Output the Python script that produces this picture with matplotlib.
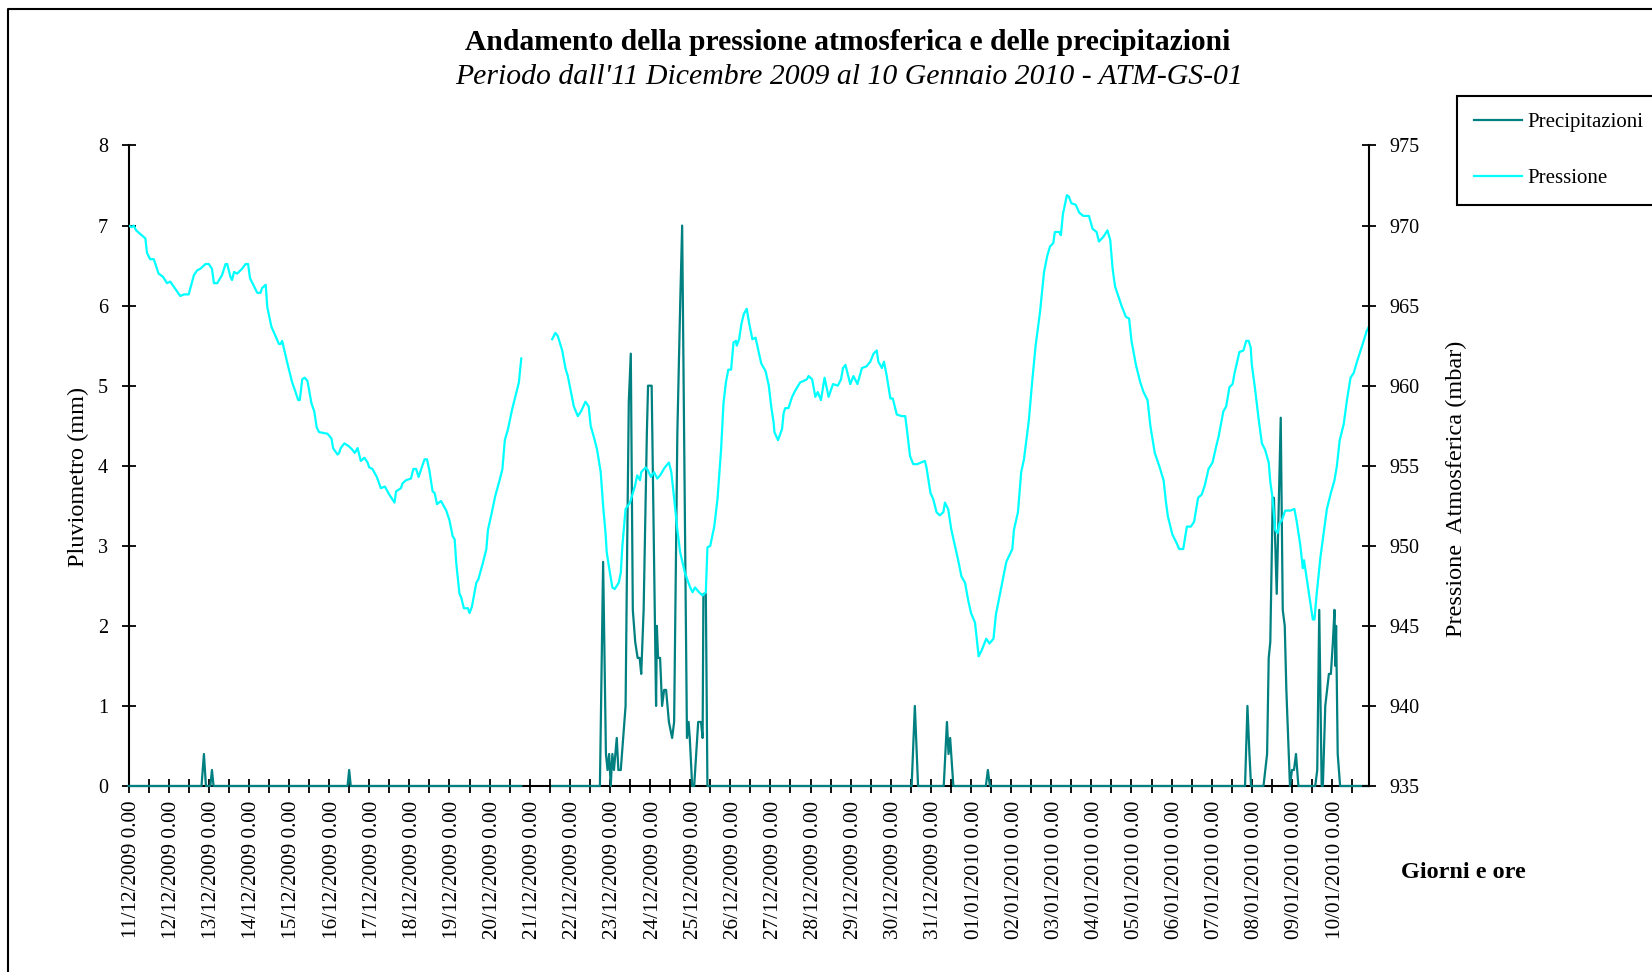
import matplotlib
matplotlib.use("Agg")
import matplotlib.pyplot as plt
import matplotlib.ticker as ticker
from matplotlib.lines import Line2D
from matplotlib.transforms import ScaledTranslation
import numpy as np
import pandas as pd

plt.rcParams['font.family'] = ['Liberation Serif', 'DejaVu Serif']

# giorni dal 11/12/2009 0.00 (x) e valori
press_day_1 = [0.00, 0.08, 0.13, 0.19, 0.42, 0.46, 0.54, 0.63, 0.75, 0.86, 0.96, 1.04, 1.29, 1.38, 1.50,
               1.63, 1.71, 1.79, 1.92, 2.00, 2.08, 2.13, 2.21, 2.33, 2.42, 2.46, 2.54, 2.58, 2.63, 2.71,
               2.83, 2.92, 2.98, 3.03, 3.21, 3.29, 3.33, 3.42, 3.46, 3.56, 3.63, 3.75, 3.79, 3.83, 3.96,
               4.08, 4.15, 4.23, 4.27, 4.33, 4.39, 4.46, 4.56, 4.63, 4.69, 4.75, 4.96, 5.06, 5.10, 5.21,
               5.25, 5.29, 5.38, 5.50, 5.58, 5.64, 5.71, 5.79, 5.88, 5.96, 6.00, 6.08, 6.19, 6.29, 6.39,
               6.50, 6.63, 6.67, 6.79, 6.83, 6.92, 7.04, 7.10, 7.17, 7.23, 7.31, 7.38, 7.44, 7.50, 7.58,
               7.63, 7.69, 7.79, 7.92, 8.00, 8.08, 8.13, 8.17, 8.25, 8.29, 8.36, 8.46, 8.50, 8.56, 8.67,
               8.72, 8.83, 8.92, 8.96, 9.04, 9.14, 9.25, 9.32, 9.38, 9.46, 9.56, 9.64, 9.73, 9.79]
press_mbar_1 = [970.0, 969.9, 970.0, 969.7, 969.2, 968.3, 967.9, 967.9, 967.0, 966.8, 966.4, 966.5, 965.6, 965.7, 965.7,
                966.9, 967.2, 967.3, 967.6, 967.6, 967.3, 966.4, 966.4, 966.9, 967.6, 967.6, 966.8, 966.6, 967.1, 967.0,
                967.3, 967.6, 967.6, 966.7, 965.8, 965.8, 966.1, 966.3, 964.9, 963.7, 963.3, 962.6, 962.6, 962.8, 961.4,
                960.2, 959.7, 959.1, 959.1, 960.4, 960.5, 960.3, 958.9, 958.4, 957.4, 957.1, 957.0, 956.7, 956.1, 955.7,
                955.8, 956.1, 956.4, 956.2, 956.0, 955.8, 956.1, 955.3, 955.5, 955.2, 954.9, 954.8, 954.3, 953.6, 953.7,
                953.2, 952.7, 953.4, 953.6, 953.9, 954.1, 954.2, 954.8, 954.8, 954.3, 954.9, 955.4, 955.4, 954.7, 953.4,
                953.3, 952.6, 952.8, 952.2, 951.6, 950.6, 950.4, 948.9, 947.0, 946.8, 946.1, 946.1, 945.8, 946.2, 947.7,
                947.9, 948.9, 949.8, 951.0, 951.9, 953.1, 954.1, 954.8, 956.6, 957.3, 958.5, 959.3, 960.2, 961.7]

press_day_2 = [10.56, 10.64, 10.70, 10.81, 10.89, 10.95, 11.03, 11.10, 11.20, 11.28, 11.39, 11.47, 11.52, 11.62, 11.68,
               11.77, 11.83, 11.89, 11.92, 12.00, 12.06, 12.12, 12.22, 12.27, 12.31, 12.39, 12.50, 12.62, 12.68, 12.75,
               12.78, 12.89, 12.95, 13.02, 13.10, 13.18, 13.25, 13.37, 13.47, 13.53, 13.62, 13.68, 13.75, 13.87, 14.00,
               14.06, 14.12, 14.22, 14.31, 14.39, 14.43, 14.50, 14.60, 14.68, 14.77, 14.83, 14.89, 14.95, 15.02, 15.08,
               15.14, 15.16, 15.22, 15.28, 15.34, 15.41, 15.47, 15.55, 15.63, 15.69, 15.77, 15.88, 15.96, 16.02, 16.08,
               16.10, 16.19, 16.29, 16.33, 16.37, 16.45, 16.54, 16.62, 16.74, 16.83, 16.91, 16.95, 17.04, 17.12, 17.18,
               17.26, 17.35, 17.45, 17.56, 17.68, 17.76, 17.81, 17.87, 17.99, 18.07, 18.17, 18.28, 18.39, 18.49, 18.57,
               18.65, 18.69, 18.78, 18.83, 18.90, 18.99, 19.05, 19.15, 19.27, 19.36, 19.41, 19.48, 19.56, 19.66, 19.75,
               19.85, 19.89, 19.99, 20.06, 20.14, 20.22, 20.31, 20.35, 20.43, 20.51, 20.60, 20.68, 20.76, 20.85, 20.93,
               21.00, 21.10, 21.19, 21.27, 21.38, 21.46, 21.56, 21.62, 21.73, 21.88, 22.03, 22.07, 22.17, 22.25, 22.32,
               22.44, 22.53, 22.61, 22.72, 22.82, 22.90, 22.97, 23.05, 23.09, 23.20, 23.24, 23.29, 23.39, 23.44, 23.50,
               23.61, 23.70, 23.80, 23.94, 24.03, 24.13, 24.19, 24.30, 24.40, 24.47, 24.53, 24.59, 24.67, 24.75, 24.86,
               24.94, 25.00, 25.11, 25.22, 25.30, 25.40, 25.47, 25.58, 25.69, 25.80, 25.86, 25.91, 26.02, 26.10, 26.19,
               26.29, 26.38, 26.48, 26.56, 26.66, 26.75, 26.83, 26.92, 27.02, 27.11, 27.17, 27.29, 27.36, 27.44, 27.52,
               27.57, 27.69, 27.79, 27.86, 27.92, 27.97, 28.00, 28.08, 28.17, 28.25, 28.33, 28.42, 28.46, 28.52, 28.58,
               28.64, 28.69, 28.75, 28.83, 28.96, 29.06, 29.12, 29.21, 29.27, 29.30, 29.37, 29.46, 29.52, 29.56, 29.62,
               29.71, 29.79, 29.87, 29.97, 30.06, 30.12, 30.19, 30.29, 30.37, 30.46, 30.54, 30.62, 30.75, 30.86, 30.92]
press_mbar_2 = [962.9, 963.3, 963.1, 962.2, 961.1, 960.6, 959.6, 958.7, 958.1, 958.4, 959.0, 958.7, 957.5, 956.6, 956.0,
                954.6, 952.5, 950.8, 949.6, 948.3, 947.4, 947.3, 947.7, 948.3, 950.0, 952.3, 952.7, 953.7, 954.4, 954.1,
                954.6, 954.9, 954.7, 954.3, 954.6, 954.2, 954.4, 954.9, 955.2, 954.6, 952.5, 951.0, 949.6, 948.3, 947.4,
                947.1, 947.4, 947.1, 946.9, 947.1, 949.9, 950.0, 951.2, 952.9, 956.0, 958.9, 960.2, 961.0, 961.0, 962.7,
                962.8, 962.5, 962.9, 963.9, 964.5, 964.8, 963.9, 962.9, 963.0, 962.3, 961.4, 960.9, 960.0, 958.7, 957.7,
                957.1, 956.6, 957.3, 958.3, 958.6, 958.6, 959.3, 959.7, 960.2, 960.3, 960.4, 960.6, 960.4, 959.3, 959.6,
                959.1, 960.5, 959.3, 960.1, 960.0, 960.4, 961.1, 961.3, 960.1, 960.6, 960.1, 961.1, 961.2, 961.5, 962.0,
                962.2, 961.5, 961.1, 961.5, 960.6, 959.2, 959.2, 958.2, 958.1, 958.1, 957.1, 955.6, 955.1, 955.1, 955.2,
                955.3, 954.9, 953.3, 952.9, 952.1, 951.9, 952.1, 952.7, 952.3, 951.0, 950.0, 949.1, 948.1, 947.7, 946.6,
                945.8, 945.2, 943.1, 943.5, 944.2, 943.9, 944.2, 945.7, 947.1, 949.0, 949.8, 951.0, 952.1, 954.6, 955.4,
                957.8, 960.4, 962.5, 964.6, 967.1, 968.1, 968.7, 968.9, 969.6, 969.6, 969.4, 970.7, 971.9, 971.8, 971.4,
                971.3, 970.8, 970.6, 970.6, 969.8, 969.6, 969.0, 969.3, 969.7, 969.1, 967.3, 966.2, 965.6, 965.0, 964.3,
                964.2, 962.8, 961.3, 960.2, 959.6, 959.1, 957.5, 955.8, 955.0, 954.1, 952.7, 951.8, 950.7, 950.3, 949.8,
                949.8, 951.2, 951.2, 951.5, 953.0, 953.2, 953.8, 954.8, 955.2, 956.2, 956.8, 958.4, 958.7, 959.9, 960.1,
                960.8, 962.1, 962.2, 962.8, 962.8, 962.4, 961.3, 959.8, 957.9, 956.4, 956.0, 955.2, 954.0, 952.9, 951.0,
                950.8, 951.4, 951.6, 952.2, 952.2, 952.3, 951.5, 950.0, 948.6, 949.1, 947.9, 946.4, 945.4, 945.4, 947.1,
                949.3, 950.8, 952.3, 953.3, 954.1, 955.0, 956.6, 957.6, 959.1, 960.5, 960.8, 961.5, 962.5, 963.4, 963.7]

rain_day_1 = [0.00, 1.82, 1.88, 1.93, 2.04, 2.08, 2.12, 5.46, 5.50, 5.54, 9.79]
rain_mm_1 = [0.0, 0.0, 0.4, 0.0, 0.0, 0.2, 0.0, 0.0, 0.2, 0.0, 0.0]

rain_day_2 = [10.56, 11.75, 11.83, 11.90, 11.94, 11.98, 12.02, 12.06, 12.10, 12.17, 12.21, 12.27, 12.33, 12.39, 12.43,
              12.47, 12.52, 12.57, 12.63, 12.69, 12.74, 12.78, 12.84, 12.92, 12.95, 13.04, 13.15, 13.17, 13.20, 13.25,
              13.30, 13.35, 13.40, 13.47, 13.55, 13.60, 13.68, 13.75, 13.80, 13.92, 13.96, 13.99, 14.05, 14.10, 14.15,
              14.20, 14.27, 14.31, 14.33, 14.39, 14.43, 19.52, 19.60, 19.68, 20.32, 20.40, 20.44, 20.48, 20.56, 21.37,
              21.42, 21.47, 27.83, 27.89, 27.94, 27.98, 28.29, 28.38, 28.42, 28.46, 28.52, 28.55, 28.62, 28.72, 28.77,
              28.82, 28.86, 28.95, 29.00, 29.05, 29.10, 29.16, 29.58, 29.63, 29.68, 29.74, 29.77, 29.83, 29.92, 29.97,
              30.02, 30.06, 30.08, 30.10, 30.14, 30.20, 30.92]
rain_mm_2 = [0.0, 0.0, 2.8, 0.4, 0.2, 0.4, 0.0, 0.4, 0.2, 0.6, 0.2, 0.2, 0.6, 1.0, 3.0,
             4.8, 5.4, 2.2, 1.8, 1.6, 1.6, 1.4, 2.2, 4.4, 5.0, 5.0, 1.0, 2.0, 1.6, 1.6,
             1.0, 1.2, 1.2, 0.8, 0.6, 0.8, 4.4, 6.0, 7.0, 0.6, 0.8, 0.6, 0.0, 0.0, 0.4,
             0.8, 0.8, 0.6, 2.4, 2.4, 0.0, 0.0, 1.0, 0.0, 0.0, 0.8, 0.4, 0.6, 0.0, 0.0,
             0.2, 0.0, 0.0, 1.0, 0.4, 0.0, 0.0, 0.4, 1.6, 1.8, 3.6, 3.6, 2.4, 4.6, 2.2,
             2.0, 1.2, 0.0, 0.2, 0.2, 0.4, 0.0, 0.0, 0.2, 2.2, 0.0, 0.0, 1.0, 1.4, 1.4,
             1.8, 2.2, 1.5, 2.0, 0.4, 0.0, 0.0]

label_dates = pd.date_range("2009-12-11", "2010-01-10", freq="D")
day_labels = [d.strftime("%d/%m/%Y") + " 0.00" for d in label_dates]

# una serie con un buco (dati mancanti 20-21/12)
press_x = press_day_1 + [np.nan] + press_day_2
press_y = press_mbar_1 + [np.nan] + press_mbar_2
rain_x = rain_day_1 + [np.nan] + rain_day_2
rain_y = rain_mm_1 + [np.nan] + rain_mm_2

W, H = 1652, 972
fig = plt.figure(figsize=(W / 100, H / 100), dpi=100)
ax1 = fig.add_axes([128.5 / W, 1 - 786 / H, (1369 - 128.5) / W, (786 - 145.5) / H])
ax2 = ax1.twinx()

line_rain, = ax1.plot(rain_x, rain_y, color='#008080', lw=1.6, zorder=3, clip_on=False)
line_press, = ax2.plot(press_x, press_y, color='#00FFFF', lw=1.6)

ax1.set_xlim(0, 30.92)
ax1.set_ylim(0, 8)
ax2.set_ylim(935, 975)

ax1.xaxis.set_major_locator(ticker.MultipleLocator(0.5))


def day_fmt(v, pos):
    if abs(v - round(v)) < 1e-6 and 0 <= int(round(v)) < len(day_labels):
        return day_labels[int(round(v))]
    return ""


ax1.xaxis.set_major_formatter(ticker.FuncFormatter(day_fmt))
ax1.yaxis.set_major_locator(ticker.MultipleLocator(1))
ax2.yaxis.set_major_locator(ticker.MultipleLocator(5))

for s in ['top', 'right']:
    ax1.spines[s].set_visible(False)
for s in ['top', 'left', 'bottom']:
    ax2.spines[s].set_visible(False)
for ax in [ax1, ax2]:
    for s in ax.spines.values():
        s.set_linewidth(1.5)

ax1.tick_params(axis='x', direction='inout', length=9.5, width=1.3, pad=6, labelsize=15.3, labelrotation=90)
ax1.tick_params(axis='y', direction='inout', length=9.5, width=1.3, pad=10, labelsize=14.5)
ax2.tick_params(axis='y', direction='inout', length=9.5, width=1.3, pad=10, labelsize=14.5)

ax1.set_ylabel("Pluviometro (mm)", fontsize=17.5)
ax1.yaxis.set_label_coords(-0.032, 0.482)
ax2.set_ylabel("Pressione  Atmosferica (mbar)", fontsize=17.5, rotation=90)
ax2.yaxis.set_label_coords(1.0617, 0.464)

fig.text(0.513, 1 - 42 / H, "Andamento della pressione atmosferica e delle precipitazioni",
         ha='center', va='center', fontsize=21.3, fontweight='bold')
fig.text(0.514, 1 - 77 / H, "Periodo dall'11 Dicembre 2009 al 10 Gennaio 2010 - ATM-GS-01",
         ha='center', va='center', fontsize=21.4, style='italic')
fig.text(1463 / W, 1 - 872 / H, "Giorni e ore", ha='center', va='center', fontsize=17.5, fontweight='bold')

leg = fig.legend([line_rain, line_press], ["Precipitazioni", "Pressione"], loc='upper left',
                 bbox_to_anchor=(1457 / W, 1 - 96 / H), fontsize=15, frameon=True, fancybox=False,
                 edgecolor='black', framealpha=1, handlelength=2.3, handletextpad=0.3,
                 labelspacing=1.75, borderpad=0.8, borderaxespad=0)
leg.get_frame().set_linewidth(1.5)

# cornice esterna del grafico
fig.add_artist(Line2D([8 / W, 8 / W, 1.0], [0.0, 1 - 9 / H, 1 - 9 / H], transform=fig.transFigure,
                      color='black', lw=1.5))

# le etichette ruotate sono un po' a sinistra del tick: spostamento di 3 px
fig.canvas.draw()
shift = ScaledTranslation(3 / 100, 0, fig.dpi_scale_trans)
for tick in ax1.xaxis.get_major_ticks():
    tick.label1.set_transform(tick.label1.get_transform() + shift)

fig.savefig("out.png", dpi=100)
